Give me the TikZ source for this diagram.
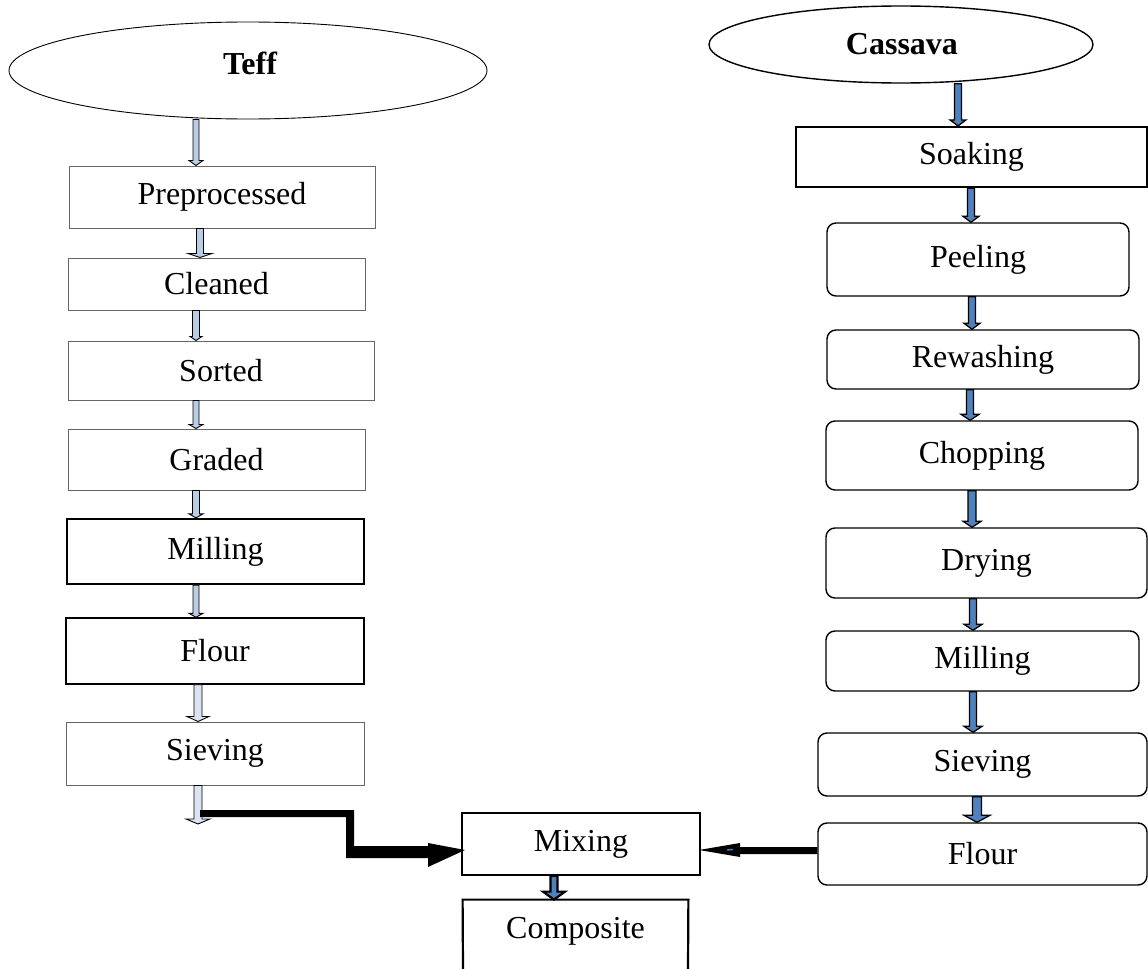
\documentclass[tikz,border=0pt]{standalone}
\usepackage{fontspec}
\setmainfont{Liberation Serif}
\usetikzlibrary{shapes.geometric,calc}
\definecolor{lb}{HTML}{B9CDE5}
\definecolor{llb}{HTML}{DBE5F1}
\definecolor{mb}{HTML}{4F81BD}
\tikzset{
  txt/.style={font=\fontsize{16}{19}\selectfont},
  tbox/.style={txt, draw=black!60, line width=0.5pt, inner sep=0pt},
  tboxk/.style={txt, draw=black, line width=0.7pt, inner sep=0pt},
  tboxkk/.style={txt, draw=black, line width=1.1pt, inner sep=0pt},
  cbox/.style={txt, draw=black, line width=0.7pt, rounded corners=4.5pt, inner sep=0pt},
  plain/.style={txt, inner sep=0pt},
  oval/.style={ellipse, draw=black, inner sep=0pt},
  tarr/.style={draw=black, line width=0.45pt, fill=lb},
  tarrl/.style={draw=black, line width=0.45pt, fill=llb},
  carr/.style={draw=black, line width=0.65pt, fill=mb},
  karr/.style={draw=black, line width=1.1pt, fill=mb},
  bigarr/.style={fill=black, draw=none},
}
% box node from pixel corners: #1 style, #2 name, #3 x1, #4 y1, #5 x2, #6 y2, #7 text
\newcommand\bx[7]{%
  \pgfmathsetmacro\bxw{(#5-#3)/2}%
  \pgfmathsetmacro\bxh{(#6-#4)/2}%
  \node[#1, minimum width=\bxw pt, minimum height=\bxh pt] (#2) at ({(#3+#5)/2},{(#4+#6)/2}) {#7};}
% block arrow: #1 style, #2 x, #3 start anchor, #4 end anchor, #5 shaft half, #6 head half, #7 head length
\newcommand\barr[7]{%
  \coordinate (bx) at (#2,0);
  \coordinate (bs) at (bx |- #3);
  \coordinate (bt) at (bx |- #4);
  \draw[#1] ($(bs)+(-#5,0)$) -- ($(bs)+(#5,0)$) -- ($(bt)+(#5,-#7)$) -- ($(bt)+(#6,-#7)$)
    -- (bt) -- ($(bt)+(-#6,-#7)$) -- ($(bt)+(-#5,-#7)$) -- cycle;}
\begin{document}
\begin{tikzpicture}[x=0.5pt,y=-0.5pt]
\useasboundingbox (0,0) rectangle (1148,969);
% ---- Teff column
\node[oval, line width=0.45pt, minimum width=239pt, minimum height=48.5pt] (teff) at (248,70.5) {};
\node[txt, font=\fontsize{16}{19}\selectfont\bfseries] (teffl) at (250,63) {Teff};
\bx{tbox}{prep}{69}{166}{375}{228}{Preprocessed}
\bx{tbox}{clean}{68}{258}{365}{310}{Cleaned}
\bx{tbox}{sort}{68}{341}{374}{400}{Sorted}
\bx{tbox}{grade}{68}{429}{365}{490}{Graded}
\bx{tboxkk}{tmill}{67}{519}{364}{584}{Milling}
\bx{tboxk}{tflour}{66}{618}{364}{684}{Flour}
\bx{tbox}{tsiev}{66}{722}{364}{785}{Sieving}
\coordinate (tfree) at (198,824);
% ---- Cassava column
\node[oval, line width=0.7pt, minimum width=192pt, minimum height=38.5pt] (cass) at (901,44.5) {};
\node[txt, font=\fontsize{16}{19}\selectfont\bfseries] (cassl) at (902,44) {Cassava};
\bx{tboxkk}{soak}{796}{127}{1147}{187}{Soaking}
\bx{cbox}{peel}{827}{223}{1129}{296}{Peeling}
\bx{cbox}{rew}{827}{330}{1139}{389}{Rewashing}
\bx{cbox}{chop}{826}{421}{1138}{490}{Chopping}
\bx{cbox}{dry}{826}{528}{1147}{598}{Drying}
\bx{cbox}{cmill}{826}{631}{1139}{691}{Milling}
\bx{cbox}{csiev}{818}{733}{1147}{796}{Sieving}
\bx{cbox}{cflour}{818}{823}{1147}{885}{Flour}
% ---- Middle
\bx{tboxkk}{mix}{462}{813}{700}{875}{Mixing}
\bx{plain}{comp}{463}{900}{688}{962}{Composite}
\draw[black, line width=1.1pt] (463,969) -- (comp.north west) -- (comp.north east) -- (688,969);
% ---- Teff arrows
\barr{tarr}{196}{teff.south}{prep.north}{3}{7}{5}
\barr{tarr}{200}{prep.south}{clean.north}{3.5}{12}{4}
\barr{tarr}{196}{clean.south}{sort.north}{3.5}{6}{4}
\barr{tarr}{196}{sort.south}{grade.north}{3}{7}{4}
\barr{tarr}{196}{grade.south}{tmill.north}{3.5}{7}{4}
\barr{tarr}{196}{tmill.south}{tflour.north}{3}{7}{4}
\barr{tarrl}{198}{tflour.south}{tsiev.north}{4}{11}{5}
\barr{tarrl}{198}{tsiev.south}{tfree}{4}{12}{5}
% ---- Cassava arrows
\barr{carr}{958}{cass.south}{soak.north}{3.5}{8}{6}
\barr{carr}{971}{soak.south}{peel.north}{3.5}{8}{6}
\barr{carr}{972}{peel.south}{rew.north}{3.5}{8}{6}
\barr{carr}{970}{rew.south}{chop.north}{3.5}{9}{6}
\barr{carr}{972}{chop.south}{dry.north}{4}{9}{6}
\barr{carr}{973}{dry.south}{cmill.north}{3.5}{9}{6}
\barr{carr}{973}{cmill.south}{csiev.north}{3.5}{9}{6}
\barr{carr}{977}{csiev.south}{cflour.north}{4.5}{13}{7}
% ---- Mixing to composite
\barr{karr}{554}{mix.south}{comp.north}{3.5}{11}{8}
% ---- Teff bent arrow to Mixing
\coordinate (tb0) at (200,810);
\coordinate (tbtip) at (465,850);
\fill[bigarr] (tb0) -- (354,810) -- (354,846) -- (428,846) -- (428,843) -- (tbtip)
  -- (428,867) -- (428,858) -- (346,858) -- (346,817) -- (200,817) -- cycle;
% ---- Cassava flour arrow to Mixing
\coordinate (cb0) at (cflour.west |- 0,847);
\coordinate (cbtip) at (699,850);
\fill[bigarr] (cb0) -- (740,847) -- (740,843) -- (cbtip) -- (740,857) -- (740,854) -- (cflour.west |- 0,854) -- cycle;
\draw[mb, line width=0.7pt] (727,850) -- (733,849.5);
\end{tikzpicture}
\end{document}
